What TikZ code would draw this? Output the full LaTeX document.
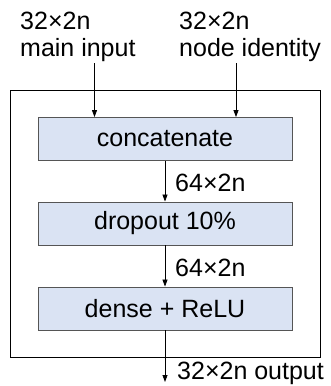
\documentclass[tikz,border=0pt]{standalone}
\usepackage{fontspec}
\setmainfont{Liberation Sans}
\usetikzlibrary{arrows.meta}
\definecolor{layerfill}{HTML}{DAE3F3}
\definecolor{layerline}{HTML}{555555}
\begin{document}
\begin{tikzpicture}[x=1pt,y=-1pt,
  layer/.style={draw=layerline,fill=layerfill,line width=0.9pt,minimum width=254pt,minimum height=43pt,inner sep=0pt,font=\fontsize{25}{29}\selectfont},
  lbl/.style={anchor=west,inner sep=0pt,font=\fontsize{25}{29}\selectfont},
  flow/.style={draw=black,line width=0.8pt,-{Triangle[width=5pt,length=7pt]}}]
\useasboundingbox (0,0) rectangle (330,386);
% enclosing block
\draw[line width=1pt] (10,90) rectangle (320.5,357);
% layers
\node[layer] (cat) at (165,139) {concatenate};
\node[layer] (drop) at (165,223.5) {dropout 10\%};
\node[layer] (dense) at (165,308.5) {dense + ReLU};
% inputs
\node[lbl] (in1a) at (20,21) {32×2n};
\node[lbl] (in1b) at (20,50) {main input};
\node[lbl] (in2a) at (179,21) {32×2n};
\node[lbl] (in2b) at (179,50) {node identity};
\coordinate (s1) at (94.5,63);
\coordinate (s2) at (236,63);
\draw[flow] (s1) -- (s1 |- cat.north);
\draw[flow] (s2) -- (s2 |- cat.north);
% internal flow
\draw[flow] (cat.south) -- (drop.north);
\draw[flow] (drop.south) -- (dense.north);
\node[lbl] (d1) at (175,183) {64×2n};
\node[lbl] (d2) at (175,268) {64×2n};
% output
\coordinate (out) at (165,382);
\draw[flow] (dense.south) -- (out);
\node[lbl] (o) at (177,373) {32×2n output};
\end{tikzpicture}
\end{document}
